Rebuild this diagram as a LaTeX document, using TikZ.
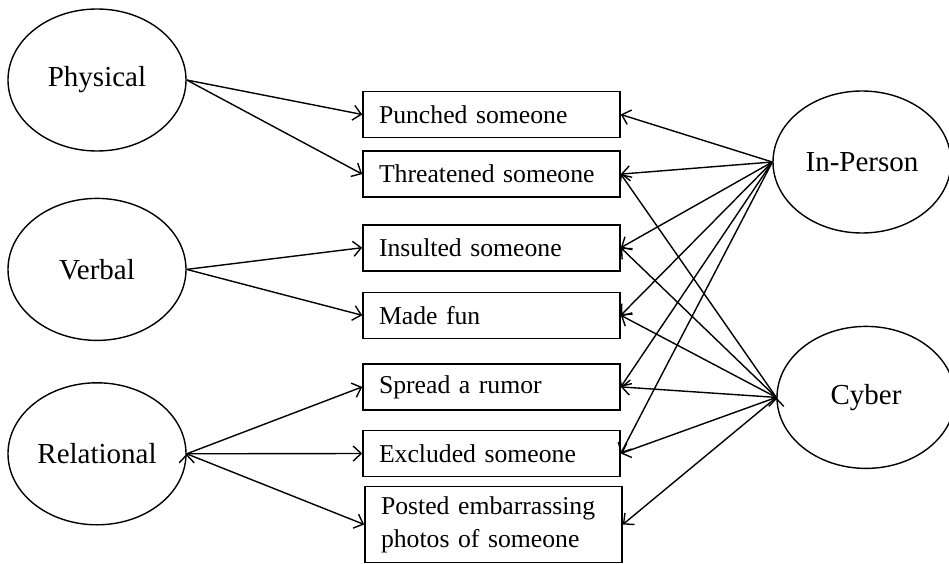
\documentclass[tikz,border=0pt]{standalone}
\usepackage{fontspec}
\setmainfont{Liberation Serif}
\usetikzlibrary{arrows.meta, positioning, shapes}
\tikzset{type node/.style={ellipse,draw,line width=1.4pt,minimum width=178pt,minimum height=142pt,inner sep=0pt,font=\fontsize{29}{34}\selectfont},
         act node/.style={rectangle,draw,line width=1.6pt,minimum height=46pt,text width=225pt,inner xsep=16pt,align=left,font=\fontsize{25.7}{33}\selectfont},}

\begin{document}
\begin{tikzpicture}[x=1pt, y=-1pt, >={Straight Barb[length=8pt,width=15pt]}]
       \useasboundingbox (0,0) rectangle (949,564);
       \node[type node] (1) at (97,80) {Physical};
       \node[type node] (2) [below = 46pt of 1]{Verbal};
       \node[type node] (3) [below = 41pt of 2]{Relational};

       \node[act node] (4) at (491.5,114.5) {Punched someone};
       \node[act node] (5) [below = 12pt of 4]{Threatened someone};
       \node[act node] (6) [below = 26pt of 5]{Insulted someone};
       \node[act node] (7) [below = 20pt of 6]{Made fun};
       \node[act node] (8) [below = 24pt of 7]{Spread a rumor};
       \node[act node] (9) [below = 19pt of 8]{Excluded someone};
       \node[act node, minimum height=76pt] (10) at (493.5,524.5) {Posted embarrassing\\photos of someone};

       \node[type node] (11) at (862,162) {In-Person};
       \node[type node] (12) [below = 92pt of 11, xshift=4pt]{Cyber};

       \path[draw,line width=1.4pt,->]
       (1.east) edge (4.west)
       (1.east) edge (5.west)
       (2.east) edge (6.west)
       (2.east) edge (7.west)
       (3.east) edge (8.west)
       (3.east) edge (9.west)
       (3.east) edge (10.west);

       \path[draw,line width=1.4pt,->]
       (11.west) edge (4.east)
       (11.west) edge (5.east)
       (11.west) edge (6.east)
       (11.west) edge (7.east)
       (11.west) edge (8.east)
       (11.west) edge (9.east)
       (12.west) edge (5.east)
       (12.west) edge (6.east)
       (12.west) edge (7.east)
       (12.west) edge (8.east)
       (12.west) edge (9.east)
       (12.west) edge (10.east);
    \end{tikzpicture}
\end{document}
